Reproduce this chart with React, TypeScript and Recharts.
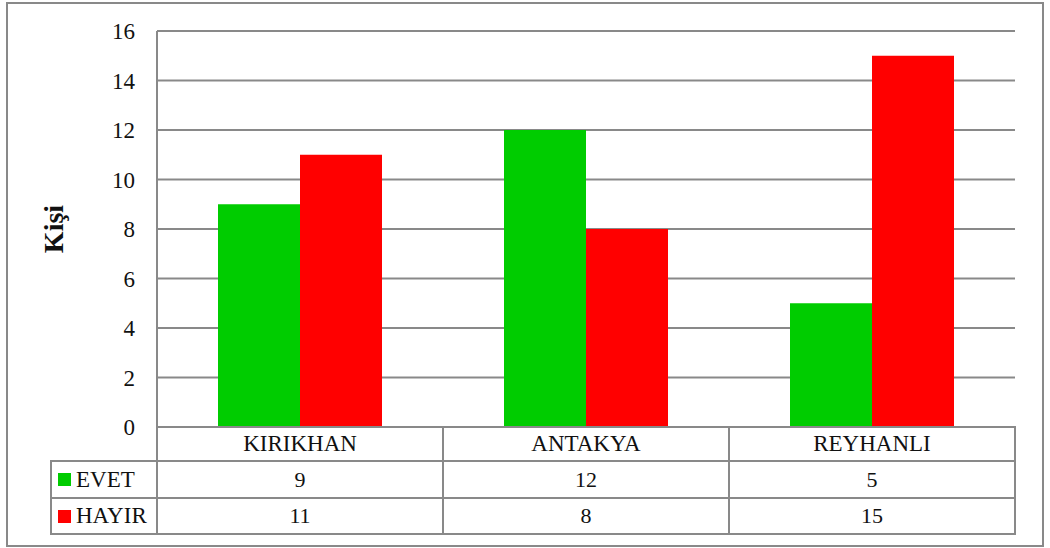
import { BarChart, Bar, XAxis, YAxis, CartesianGrid } from 'recharts';

const categories = ['KIRIKHAN', 'ANTAKYA', 'REYHANLI'];
const evet = [9, 12, 5];
const hayir = [11, 8, 15];
const yTicks = [0, 2, 4, 6, 8, 10, 12, 14, 16];

const series = [
  { key: 'evet', name: 'EVET', color: '#00CC00', values: evet },
  { key: 'hayir', name: 'HAYIR', color: '#FF0000', values: hayir },
];

const data = categories.map((c, i) => ({ name: c, evet: evet[i], hayir: hayir[i] }));

const FONT = '"Liberation Serif", serif';
const LINE = '#898989';

// table geometry (matches plot area: left 157, right 1015, zero line 427)
const PLOT_LEFT = 157;
const PLOT_RIGHT = 1015;
const ZERO_Y = 427;
const COL_W = (PLOT_RIGHT - PLOT_LEFT) / categories.length;
const HEAD_H = 34;
const ROW_H = [37, 36];
const LEG_LEFT = 51;

function Cell({ x, y, w, h, children, size = 22, align = 'center' }: any) {
  const b = `2px solid ${LINE}`;
  return (
    <div
      style={{
        position: 'absolute',
        left: x - 1,
        top: y - 1,
        width: w + 2,
        height: h + 2,
        boxSizing: 'border-box',
        border: b,
        display: 'flex',
        alignItems: 'center',
        justifyContent: align === 'center' ? 'center' : 'flex-start',
        fontFamily: FONT,
        fontSize: size,
        color: '#111',
        whiteSpace: 'nowrap',
      }}
    >
      {children}
    </div>
  );
}

export default function App() {
  const rowTops = [ZERO_Y + HEAD_H, ZERO_Y + HEAD_H + ROW_H[0]];
  return (
    <div style={{ position: 'absolute', left: 0, top: 0, width: 1050, height: 548, background: '#fff' }}>
      <div
        style={{
          position: 'absolute',
          left: 6,
          top: 2,
          width: 1038,
          height: 545,
          boxSizing: 'border-box',
          border: `2px solid ${LINE}`,
        }}
      />
      <div style={{ position: 'absolute', left: 0, top: 0 }}>
        <BarChart
          width={1050}
          height={548}
          data={data}
          margin={{ top: 31, right: 1050 - PLOT_RIGHT, left: 0, bottom: 548 - ZERO_Y }}
          barCategoryGap={61}
          barGap={0}
        >
          <CartesianGrid vertical={false} stroke={LINE} strokeWidth={2} />
          <XAxis dataKey="name" hide />
          <YAxis
            width={PLOT_LEFT}
            domain={[0, 16]}
            ticks={yTicks}
            interval={0}
            tickLine={false}
            tickMargin={16}
            axisLine={{ stroke: LINE, strokeWidth: 2 }}
            tick={{ fill: '#111', fontSize: 23, fontFamily: FONT }}
          />
          {series.map((s) => (
            <Bar key={s.key} dataKey={s.key} name={s.name} fill={s.color} isAnimationActive={false} />
          ))}
        </BarChart>
      </div>
      <div
        style={{
          position: 'absolute',
          left: 54 - 40,
          top: 229 - 17,
          width: 80,
          height: 34,
          lineHeight: '34px',
          textAlign: 'center',
          transform: 'rotate(-90deg)',
          fontFamily: FONT,
          fontWeight: 'bold',
          fontSize: 28,
          color: '#111',
        }}
      >
        Kişi
      </div>
      {categories.map((c, i) => (
        <Cell key={c} x={PLOT_LEFT + COL_W * i} y={ZERO_Y} w={COL_W} h={HEAD_H} size={23}>
          {c}
        </Cell>
      ))}
      {series.map((s, r) => (
        <div key={s.key}>
          <Cell x={LEG_LEFT} y={rowTops[r]} w={PLOT_LEFT - LEG_LEFT} h={ROW_H[r]} size={23} align="left">
            <span
              style={{
                display: 'inline-block',
                width: 13,
                height: 13,
                background: s.color,
                marginLeft: 6,
                marginRight: 5,
              }}
            />
            {s.name}
          </Cell>
          {s.values.map((v, i) => (
            <Cell key={i} x={PLOT_LEFT + COL_W * i} y={rowTops[r]} w={COL_W} h={ROW_H[r]}>
              {v}
            </Cell>
          ))}
        </div>
      ))}
    </div>
  );
}
